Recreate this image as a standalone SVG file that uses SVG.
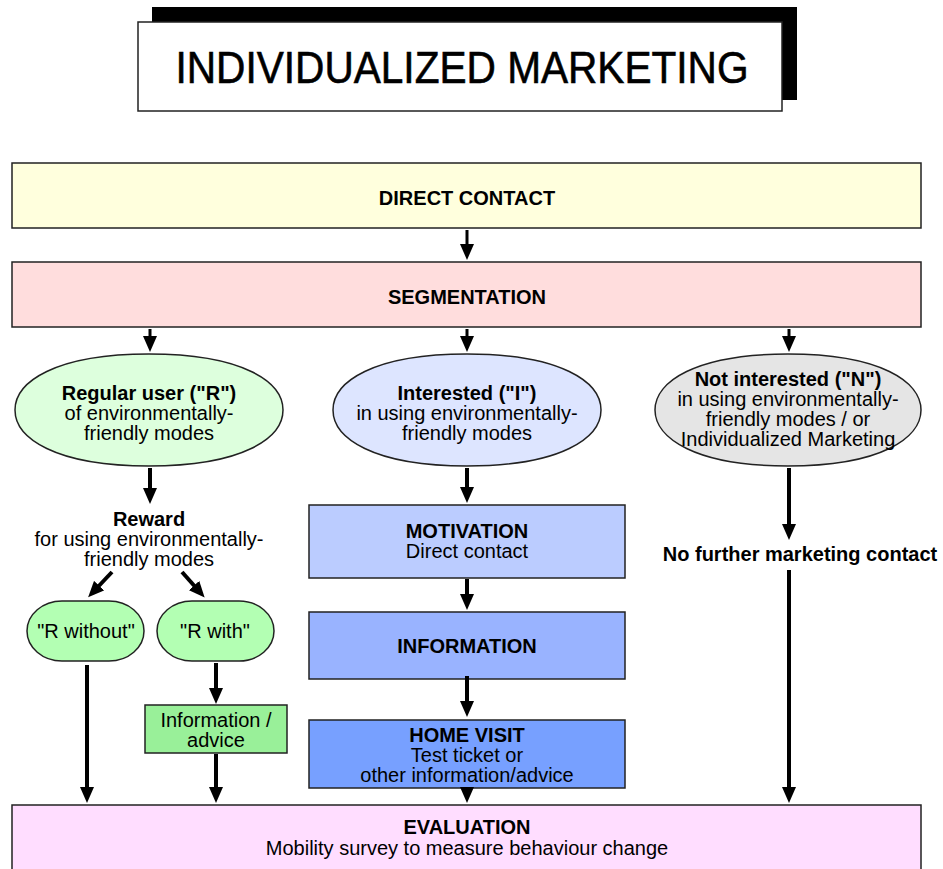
<svg xmlns="http://www.w3.org/2000/svg" width="943" height="869" viewBox="0 0 943 869">
<defs>
<style>
.box{stroke:#222;stroke-width:1.5}
.t{font-family:"Liberation Sans",Arial,sans-serif;font-size:20px;fill:#000;text-anchor:middle}
.b{font-weight:bold}
.c{stroke:#000;stroke-width:4;fill:none;marker-end:url(#ah)}
</style>
<marker id="ah" markerUnits="userSpaceOnUse" markerWidth="16" markerHeight="14" refX="6" refY="7" orient="auto">
<path d="M0,0 L16,7 L0,14 z" fill="#000"/>
</marker>
</defs>
<rect width="943" height="869" fill="#fff"/>
<g id="title">
<rect x="152" y="7" width="645" height="93" fill="#000"/>
<rect x="138" y="22" width="644" height="89" fill="#fff" class="box"/>
<text x="462" y="83" class="t" style="font-size:44px;stroke:#000;stroke-width:0.6" textLength="573" lengthAdjust="spacingAndGlyphs">INDIVIDUALIZED MARKETING</text>
</g>
<g id="direct-contact">
<rect x="12" y="163" width="909" height="65" fill="#ffffdd" class="box"/>
<text x="467" y="205" class="t b">DIRECT CONTACT</text>
</g>
<g id="segmentation">
<rect x="12" y="262" width="909" height="65" fill="#ffdddd" class="box"/>
<text x="467" y="304" class="t b">SEGMENTATION</text>
</g>
<g id="regular-user">
<path d="M15,410 C15,382 55,354 149,354 C243,354 283,382 283,410 C283,438 243,466 149,466 C55,466 15,438 15,410 Z" fill="#ddffdd" class="box"/>
<text x="149" y="400" class="t b">Regular user ("R")</text>
<text x="149" y="420" class="t">of environmentally-</text>
<text x="149" y="440" class="t">friendly modes</text>
</g>
<g id="interested">
<path d="M333,410 C333,382 373,354 467,354 C561,354 601,382 601,410 C601,438 561,466 467,466 C373,466 333,438 333,410 Z" fill="#dde5ff" class="box"/>
<text x="467" y="400" class="t b">Interested ("I")</text>
<text x="467" y="420" class="t">in using environmentally-</text>
<text x="467" y="440" class="t">friendly modes</text>
</g>
<g id="not-interested">
<path d="M655,410 C655,382 695,354 788,354 C881,354 921,382 921,410 C921,438 881,466 788,466 C695,466 655,438 655,410 Z" fill="#e5e5e5" class="box"/>
<text x="788" y="386" class="t b">Not interested ("N")</text>
<text x="788" y="406" class="t">in using environmentally-</text>
<text x="788" y="426" class="t">friendly modes / or</text>
<text x="788" y="446" class="t">Individualized Marketing</text>
</g>
<g id="reward">
<text x="149" y="526" class="t b">Reward</text>
<text x="149" y="546" class="t">for using environmentally-</text>
<text x="149" y="566" class="t">friendly modes</text>
</g>
<g id="r-without">
<rect x="27" y="601" width="117" height="60" rx="35" ry="30" fill="#b3ffb3" class="box"/>
<text x="86" y="638" class="t">"R without"</text>
</g>
<g id="r-with">
<rect x="157" y="601" width="117" height="60" rx="35" ry="30" fill="#b3ffb3" class="box"/>
<text x="215" y="638" class="t">"R with"</text>
</g>
<g id="info-advice">
<rect x="145" y="705" width="142" height="48" fill="#99f099" class="box"/>
<text x="216" y="727" class="t">Information /</text>
<text x="216" y="747" class="t">advice</text>
</g>
<g id="motivation">
<rect x="309" y="505" width="316" height="73" fill="#bbccff" class="box"/>
<text x="467" y="538" class="t b">MOTIVATION</text>
<text x="467" y="558" class="t">Direct contact</text>
</g>
<g id="information">
<rect x="309" y="612" width="316" height="67" fill="#99b3ff" class="box"/>
<text x="467" y="653" class="t b">INFORMATION</text>
</g>
<g id="home-visit">
<rect x="309" y="720" width="316" height="68" fill="#77a0ff" class="box"/>
<text x="467" y="742" class="t b">HOME VISIT</text>
<text x="467" y="762" class="t">Test ticket or</text>
<text x="467" y="782" class="t">other information/advice</text>
</g>
<g id="no-further">
<text x="800" y="561" class="t b">No further marketing contact</text>
</g>
<g id="evaluation">
<rect x="12" y="805" width="909" height="70" fill="#ffddff" class="box"/>
<text x="467" y="834" class="t b">EVALUATION</text>
<text x="467" y="855" class="t">Mobility survey to measure behaviour change</text>
</g>
<g id="connectors">
<line x1="467" y1="230" x2="467" y2="250" class="c" style="stroke-width:3"/>
<line x1="150" y1="329" x2="150" y2="342" class="c" style="stroke-width:3"/>
<line x1="467" y1="329" x2="467" y2="342" class="c" style="stroke-width:3"/>
<line x1="789" y1="329" x2="789" y2="342" class="c" style="stroke-width:3"/>
<line x1="150" y1="468" x2="150" y2="494" class="c"/>
<line x1="112" y1="572" x2="95" y2="590" class="c"/>
<line x1="182" y1="572" x2="198" y2="590" class="c"/>
<line x1="87" y1="665" x2="87" y2="793" class="c"/>
<line x1="216" y1="663" x2="216" y2="694" class="c"/>
<line x1="216" y1="754" x2="216" y2="793" class="c"/>
<line x1="467" y1="468" x2="467" y2="493" class="c"/>
<line x1="467" y1="579" x2="467" y2="600" class="c"/>
<line x1="467" y1="676" x2="467" y2="707" class="c"/>
<line x1="467" y1="789" x2="467" y2="793" class="c"/>
<line x1="789" y1="468" x2="789" y2="530" class="c"/>
<line x1="789" y1="570" x2="789" y2="793" class="c"/>
</g>
</svg>
